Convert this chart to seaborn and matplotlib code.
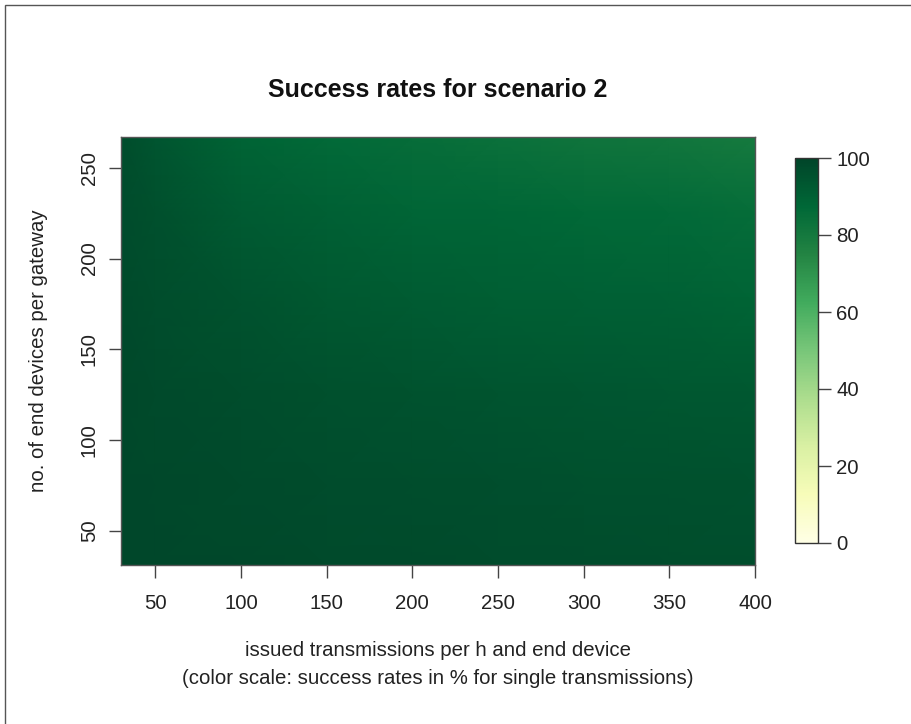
import numpy as np
import matplotlib
matplotlib.use("Agg")
import matplotlib.pyplot as plt
import seaborn as sns
from matplotlib.patches import Rectangle

sns.set_style("white")
plt.rcParams["font.family"] = ["Liberation Sans", "DejaVu Sans"]

# Grid of scenario parameters
transmissions = [30, 50, 100, 150, 200, 250, 300, 350, 400]
devices = [31, 75, 125, 175, 225, 267]

# Success rates (%) per row of devices, columns follow transmissions
rate_dev_31 = [99.0, 99.0, 98.5, 98.0, 98.0, 97.5, 97.5, 97.0, 97.0]
rate_dev_75 = [99.0, 98.5, 98.0, 97.5, 97.0, 96.5, 96.0, 96.0, 95.5]
rate_dev_125 = [98.5, 98.0, 97.0, 96.0, 95.0, 94.5, 94.0, 93.5, 93.0]
rate_dev_175 = [98.0, 97.0, 95.0, 93.0, 92.0, 91.0, 90.5, 90.0, 89.0]
rate_dev_225 = [97.5, 96.0, 92.0, 90.0, 88.5, 88.0, 87.0, 86.5, 85.5]
rate_dev_267 = [97.0, 94.0, 89.0, 86.5, 85.0, 83.5, 82.0, 81.0, 79.5]

rates = np.array([rate_dev_31, rate_dev_75, rate_dev_125,
                  rate_dev_175, rate_dev_225, rate_dev_267])

x_ticks = [50, 100, 150, 200, 250, 300, 350, 400]
y_ticks = [50, 100, 150, 200, 250]
cbar_ticks = [0, 20, 40, 60, 80, 100]

cmap = sns.color_palette("YlGn", as_cmap=True)
FS = 14.7
TXT = "#222222"

fig = plt.figure(figsize=(9.11, 7.24), dpi=100)

ax = fig.add_axes([121 / 911, 1 - 565 / 724, (755 - 121) / 911, (565 - 137) / 724])
mesh = ax.pcolormesh(transmissions, devices, rates, shading="gouraud",
                     cmap=cmap, vmin=0, vmax=100, rasterized=True)
ax.set_xlim(transmissions[0], transmissions[-1])
ax.set_ylim(devices[0], devices[-1])
ax.set_xticks(x_ticks)
ax.set_yticks(y_ticks)
ax.tick_params(axis="both", direction="out", length=9, width=1.0,
               color="#444444", labelsize=FS, labelcolor=TXT,
               bottom=True, left=True)
ax.tick_params(axis="x", pad=12)
ax.tick_params(axis="y", pad=7)
plt.setp(ax.get_yticklabels(), rotation=90, va="center")
for sp in ax.spines.values():
    sp.set_color("#555555")
    sp.set_linewidth(1.0)

ax.set_ylabel("no. of end devices per gateway", fontsize=FS, color=TXT,
              labelpad=23)
ax.set_xlabel("issued transmissions per h and end device\n"
              "(color scale: success rates in % for single transmissions)",
              fontsize=FS, color=TXT, labelpad=20, linespacing=1.6)

fig.text(438 / 911, 1 - 90 / 724, "Success rates for scenario 2",
         ha="center", va="center", fontsize=18, fontweight="bold", color="#111111")

cax = fig.add_axes([795 / 911, 1 - 543 / 724, (818 - 795) / 911, (543 - 158) / 724])
cb = fig.colorbar(mesh, cax=cax, ticks=cbar_ticks)
cb.outline.set_edgecolor("#333333")
cb.outline.set_linewidth(1.0)
cax.tick_params(axis="y", direction="out", length=9, width=1.0, color="#444444",
                labelsize=FS, labelcolor=TXT, pad=4, right=True)

# Thin frame along the top and left edges of the figure
fig.patches.append(Rectangle((5 / 911, -0.1), 1.2, 1 - 5 / 724 + 0.1,
                             transform=fig.transFigure, fill=False,
                             edgecolor="#555555", linewidth=1.0))

fig.savefig("out.png", dpi=100)
